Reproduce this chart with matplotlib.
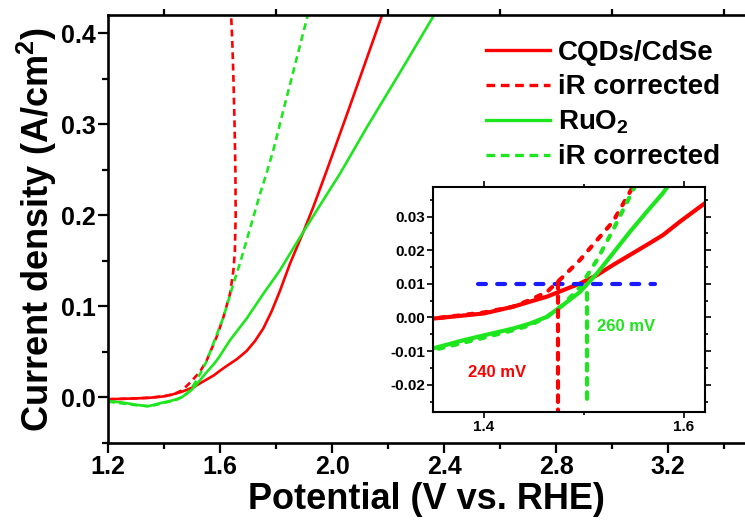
import numpy as np
import matplotlib
matplotlib.use("Agg")
import matplotlib.pyplot as plt
from matplotlib.ticker import MultipleLocator

plt.rcParams['font.family'] = ['Liberation Sans', 'DejaVu Sans']
plt.rcParams['font.weight'] = 'bold'
plt.rcParams['mathtext.default'] = 'regular'

# LSV curves (potential in V vs. RHE, current density in A/cm2)
cdse_E = [1.20, 1.25, 1.30, 1.35, 1.40, 1.429, 1.446, 1.463, 1.479, 1.496, 1.513,
          1.529, 1.546, 1.563, 1.579, 1.596, 1.621, 1.66, 1.695, 1.725, 1.755,
          1.785, 1.814, 1.85, 1.898, 1.933, 1.981, 2.064, 2.179, 2.20]
cdse_j = [-0.002, -0.0015, -0.001, -0.0003, 0.0012, 0.0032, 0.0047, 0.0062, 0.0081,
          0.0101, 0.0126, 0.0156, 0.0186, 0.0216, 0.0245, 0.0285, 0.034, 0.042,
          0.051, 0.062, 0.076, 0.095, 0.117, 0.147, 0.182, 0.209, 0.249, 0.32,
          0.42, 0.438]

cdse_ir_E = [1.20, 1.30, 1.35, 1.40, 1.429, 1.446, 1.463, 1.479, 1.496, 1.513, 1.529,
             1.553, 1.588, 1.612, 1.636, 1.648, 1.653, 1.656, 1.655, 1.652, 1.648,
             1.644, 1.639]
cdse_ir_j = [-0.002, -0.001, -0.0003, 0.0015, 0.0032, 0.0052, 0.0076, 0.0121, 0.0171,
             0.023, 0.0285, 0.041, 0.0665, 0.088, 0.114, 0.14, 0.16, 0.20, 0.25,
             0.30, 0.35, 0.39, 0.425]

ruo2_E = [1.20, 1.25, 1.30, 1.339, 1.349, 1.379, 1.40, 1.429, 1.446, 1.463, 1.479,
          1.496, 1.513, 1.529, 1.546, 1.563, 1.579, 1.596, 1.636, 1.695, 1.755,
          1.814, 1.874, 1.898, 1.957, 2.029, 2.125, 2.243, 2.357, 2.37]
ruo2_j = [-0.004, -0.0055, -0.008, -0.0095, -0.0092, -0.0068, -0.0053, -0.0033,
          -0.0018, 0.0002, 0.0037, 0.0076, 0.0131, 0.0191, 0.0255, 0.0315, 0.037,
          0.044, 0.063, 0.0866, 0.114, 0.1396, 0.170, 0.182, 0.211, 0.246, 0.297,
          0.357, 0.416, 0.423]

ruo2_ir_E = [1.20, 1.30, 1.349, 1.396, 1.429, 1.446, 1.463, 1.479, 1.496, 1.513,
             1.529, 1.551, 1.576, 1.612, 1.648, 1.671, 1.695, 1.719, 1.743, 1.764,
             1.79, 1.826, 1.911, 1.915]
ruo2_ir_j = [-0.0045, -0.0085, -0.0097, -0.0063, -0.0038, -0.0023, 0.0002, 0.0037,
             0.0091, 0.0171, 0.026, 0.039, 0.059, 0.088, 0.125, 0.147, 0.1725, 0.198,
             0.2237, 0.244, 0.271, 0.315, 0.417, 0.425]

# onset potentials at 10 mA/cm2
j_ref = 0.01
onset_E = [1.4737, 1.503]
onset_top = [0.0105, 0.0072]
onset_bottom = [-0.030, -0.025]
onset_labels = ["240 mV", "260 mV"]
label_pos = [(1.384, -0.0165), (1.5127, -0.0028)]
ref_span = [1.394, 1.571]

RED = "#ff0000"
GREEN = "#1ee61e"
BLUE = "#1a1aff"

fig = plt.figure(figsize=(7.45, 5.2), dpi=100)
ax = fig.add_axes([108/745, 1-443/520, 637/745, 428/520])

lw = 1.9
dash = (0, (2.6, 1.7))
ax.plot(cdse_E, cdse_j, color=RED, lw=lw, label="CQDs/CdSe")
ax.plot(cdse_ir_E, cdse_ir_j, color=RED, lw=lw, ls=dash, label="iR corrected")
ax.plot(ruo2_E, ruo2_j, color=GREEN, lw=lw, label="RuO$_2$")
ax.plot(ruo2_ir_E, ruo2_ir_j, color=GREEN, lw=lw, ls=dash, label="iR corrected")

ax.set_xlim(1.2, 3.475)
ax.set_ylim(-0.05, 0.42)
ax.xaxis.set_major_locator(MultipleLocator(0.4))
ax.xaxis.set_minor_locator(MultipleLocator(0.2))
ax.yaxis.set_major_locator(MultipleLocator(0.1))
ax.yaxis.set_minor_locator(MultipleLocator(0.05))
ax.xaxis.set_major_formatter(plt.FormatStrFormatter("%.1f"))
ax.yaxis.set_major_formatter(plt.FormatStrFormatter("%.1f"))
ax.spines["right"].set_visible(False)
for s in ("left", "bottom", "top"):
    ax.spines[s].set_linewidth(1.9)
ax.tick_params(which="major", length=7, width=1.6, labelsize=18, pad=2)
ax.tick_params(which="minor", length=4.5, width=1.6)
ax.tick_params(axis="x", which="minor", top=True, length=4.5)
for t in ax.get_xticklabels() + ax.get_yticklabels():
    t.set_fontweight("bold")

ax.set_xlabel("Potential (V vs. RHE)", fontsize=26, fontweight="bold", labelpad=2)
ax.set_ylabel("Current density (A/cm$^2$)", fontsize=26, fontweight="bold", labelpad=1)

leg = fig.legend(loc="upper left", bbox_to_anchor=(486/745, 1-40/520), frameon=False,
                 fontsize=20, handlelength=2.3, handletextpad=0.3, labelspacing=0.3,
                 borderpad=0, borderaxespad=0)
for line in leg.get_lines():
    line.set_linewidth(2.4)
for t in leg.get_texts():
    t.set_fontweight("bold")

# inset: onset region
ins = fig.add_axes([433/745, 1-412/520, 272/745, (412-187.3)/520])
ilw = 3.0
ins.plot(cdse_E, cdse_j, color=RED, lw=ilw)
ins.plot(cdse_ir_E, cdse_ir_j, color=RED, lw=ilw, ls=(0, (1.2, 2.2)), dash_capstyle="round")
ins.plot(ruo2_E, ruo2_j, color=GREEN, lw=ilw)
ins.plot(ruo2_ir_E, ruo2_ir_j, color=GREEN, lw=ilw, ls=(0, (1.2, 2.2)), dash_capstyle="round")

ins.plot(ref_span, [j_ref, j_ref], color=BLUE, lw=ilw, ls=(0, (1.9, 2.7)),
         dash_capstyle="round")
for E, top, bot, c in zip(onset_E, onset_top, onset_bottom, [RED, GREEN]):
    ins.plot([E, E], [top, bot], color=c, lw=ilw, ls=(0, (1.6, 1.8)),
             dash_capstyle="round")
for txt, (tx, ty), c in zip(onset_labels, label_pos, [RED, GREEN]):
    ins.text(tx, ty, txt, color=c, fontsize=12, fontweight="bold", va="center", ha="left")

ins.set_xlim(1.349, 1.621)
ins.set_ylim(-0.0281, 0.0387)
ins.xaxis.set_major_locator(MultipleLocator(0.2))
ins.xaxis.set_minor_locator(MultipleLocator(0.1))
ins.yaxis.set_major_locator(MultipleLocator(0.01))
ins.yaxis.set_minor_locator(MultipleLocator(0.005))
ins.xaxis.set_major_formatter(plt.FormatStrFormatter("%.1f"))
ins.yaxis.set_major_formatter(plt.FormatStrFormatter("%.2f"))
for s in ins.spines.values():
    s.set_linewidth(1.5)
ins.tick_params(which="both", top=True, right=True, width=1.2, labelsize=11, pad=1.5)
ins.tick_params(which="major", length=4)
ins.tick_params(which="minor", length=2.5)
for t in ins.get_xticklabels() + ins.get_yticklabels():
    t.set_fontweight("bold")

fig.savefig("out.png", dpi=100, facecolor="white")
